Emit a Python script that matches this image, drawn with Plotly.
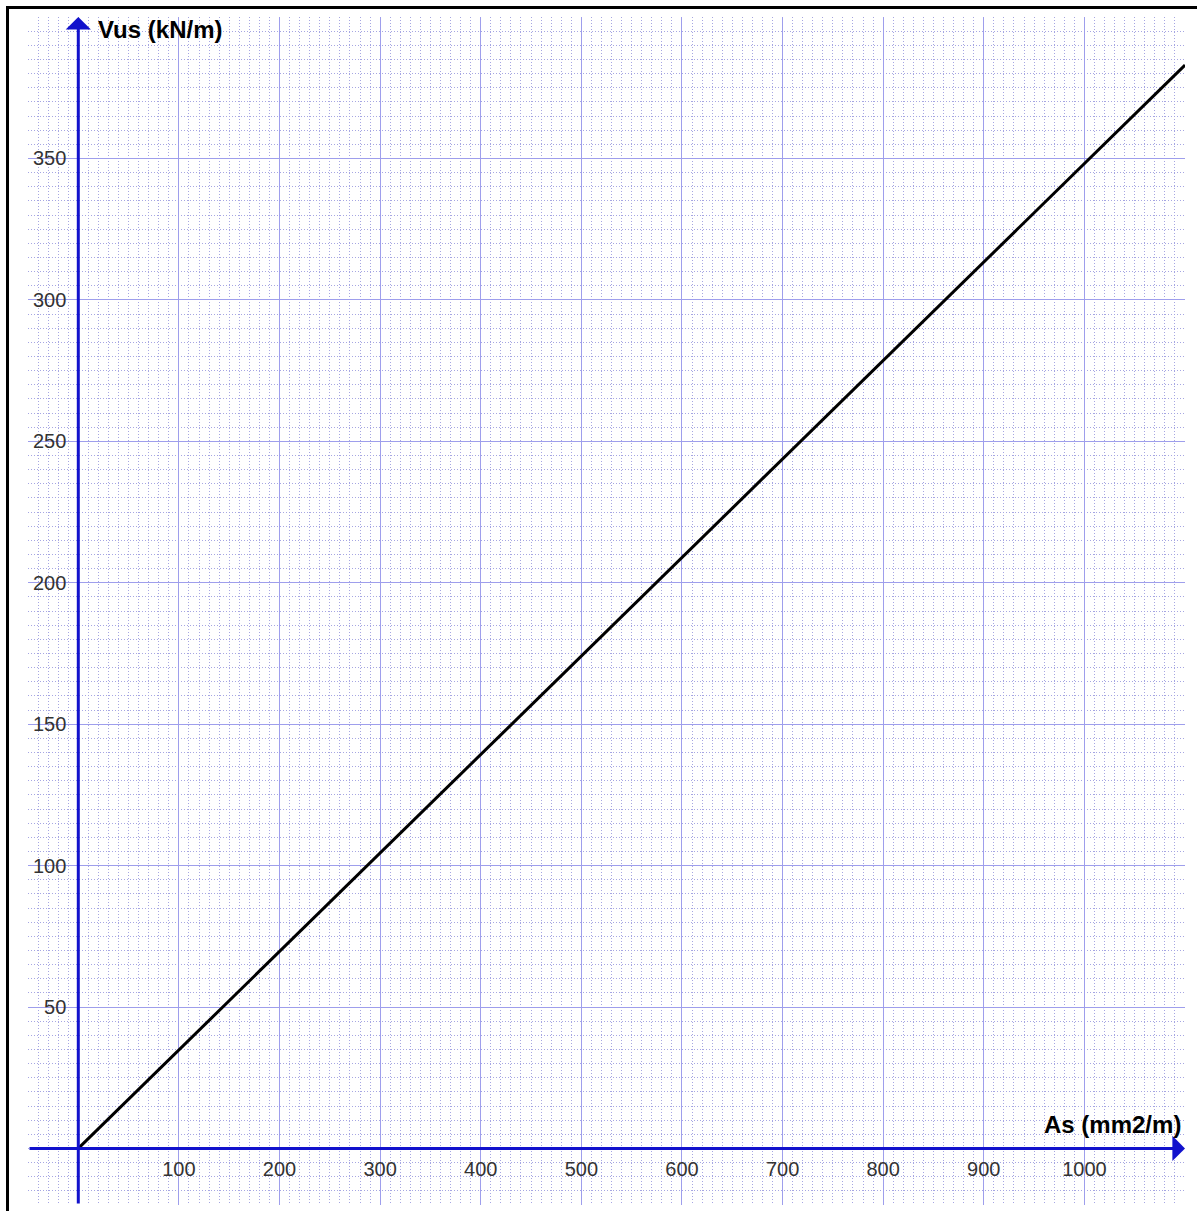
import plotly.graph_objects as go

# Shear reinforcement capacity vs. reinforcement area
as_values = [0, 1100]          # As (mm2/m)
vus_values = [0, 383]          # Vus (kN/m)

x_ticks = [100, 200, 300, 400, 500, 600, 700, 800, 900, 1000]
y_ticks = [50, 100, 150, 200, 250, 300, 350]

X_RANGE = [-50, 1100]
Y_RANGE = [-20, 400]

W, H = 1197, 1211
ML, MR, MT, MB = 28, 12, 17, 6

AXIS_BLUE = "#1212cc"
MAJOR_GRID = "#9e9eec"
MINOR_GRID = "#a6a6e2"
TICK_FONT = dict(family="Liberation Sans, Arial, sans-serif", size=20, color="#333333")
TITLE_FONT = dict(family="Liberation Sans, Arial, sans-serif", size=24, color="#000000")

fig = go.Figure()

fig.add_trace(go.Scatter(
    x=as_values, y=vus_values, mode="lines",
    line=dict(color="#000000", width=3),
    showlegend=False, hoverinfo="skip",
))

# position of each axis line through the origin, as a fraction of the plot area
x_axis_pos = (0 - Y_RANGE[0]) / (Y_RANGE[1] - Y_RANGE[0])
y_axis_pos = (0 - X_RANGE[0]) / (X_RANGE[1] - X_RANGE[0])

fig.update_layout(
    width=W, height=H,
    margin=dict(l=ML, r=MR, t=MT, b=MB, pad=0),
    paper_bgcolor="white", plot_bgcolor="white",
    xaxis=dict(
        range=X_RANGE, anchor="free", position=x_axis_pos,
        tickmode="array", tickvals=x_ticks, ticks="",
        tickfont=TICK_FONT, ticklabelstandoff=7,
        showgrid=True, gridcolor=MAJOR_GRID, gridwidth=1,
        minor=dict(tickmode="linear", tick0=0, dtick=10, showgrid=True,
                   gridcolor=MINOR_GRID, griddash="1px,2px", gridwidth=1),
        zeroline=False, showline=False, fixedrange=True,
    ),
    yaxis=dict(
        range=Y_RANGE, anchor="free", position=y_axis_pos,
        tickmode="array", tickvals=y_ticks, ticks="",
        tickfont=TICK_FONT, ticklabelstandoff=12,
        showgrid=True, gridcolor=MAJOR_GRID, gridwidth=1,
        minor=dict(tickmode="linear", tick0=0, dtick=5, showgrid=True,
                   gridcolor=MINOR_GRID, griddash="1px,2px", gridwidth=1),
        zeroline=False, showline=False, fixedrange=True,
    ),
)

# axis lines through the origin with arrow heads
fig.add_annotation(x=X_RANGE[1], y=0, ax=X_RANGE[0], ay=0, xref="x", yref="y",
                   axref="x", ayref="y", text="", showarrow=True, arrowhead=1,
                   arrowsize=1.4, arrowwidth=3, arrowcolor=AXIS_BLUE, standoff=0)
fig.add_annotation(x=0, y=Y_RANGE[1], ax=0, ay=Y_RANGE[0], xref="x", yref="y",
                   axref="x", ayref="y", text="", showarrow=True, arrowhead=1,
                   arrowsize=1.4, arrowwidth=3, arrowcolor=AXIS_BLUE, standoff=0)

# axis titles
fig.add_annotation(x=0, y=Y_RANGE[1], xref="x", yref="y", text="<b>Vus (kN/m)</b>",
                   showarrow=False, xanchor="left", yanchor="top",
                   xshift=18, yshift=3, font=TITLE_FONT)
fig.add_annotation(x=X_RANGE[1], y=0, xref="x", yref="y", text="<b>As (mm2/m)</b>",
                   showarrow=False, xanchor="right", yanchor="bottom",
                   xshift=-2, yshift=8, font=TITLE_FONT)

# black frame on the left and top edges
def px_x(p):
    return (p - ML) / (W - ML - MR)

def px_y(p):
    return 1 - (p - MT) / (H - MT - MB)

fig.add_shape(type="line", xref="paper", yref="paper",
              x0=px_x(7.5), x1=px_x(7.5), y0=px_y(6), y1=px_y(H + 5),
              line=dict(color="black", width=3))
fig.add_shape(type="line", xref="paper", yref="paper",
              x0=px_x(6), x1=px_x(W + 5), y0=px_y(7.5), y1=px_y(7.5),
              line=dict(color="black", width=3))

fig.write_html("out.html")
